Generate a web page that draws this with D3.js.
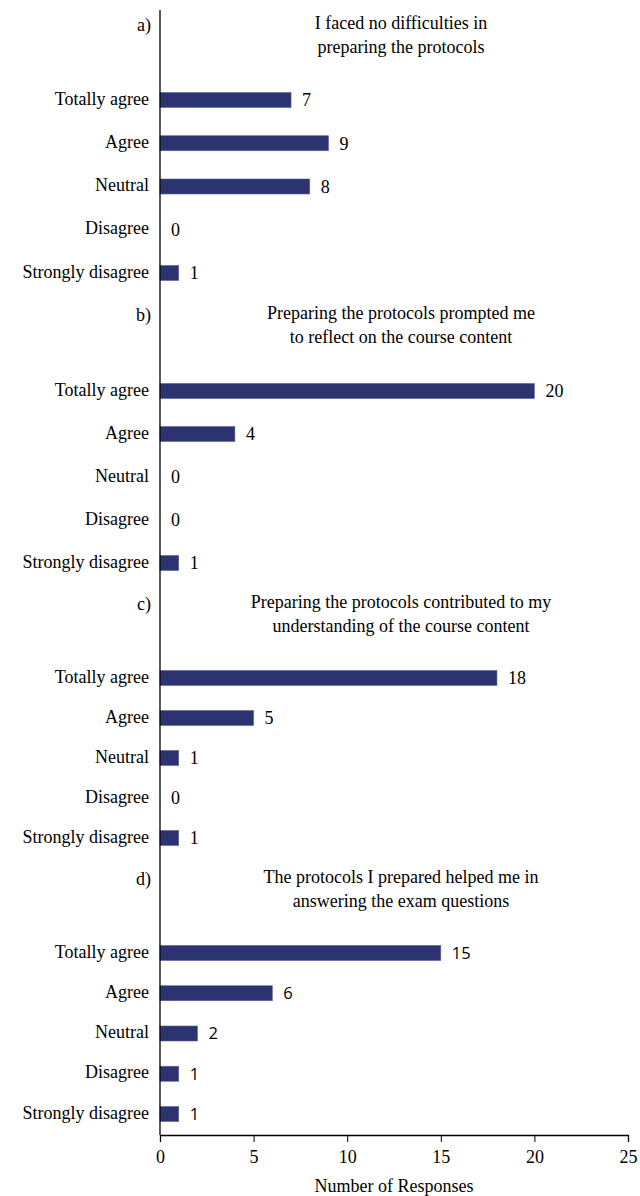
<!DOCTYPE html>
<html>
<head>
<meta charset="utf-8">
<script src="https://cdn.jsdelivr.net/npm/d3@7"></script>
<style>
  body { margin: 0; background: #fff; }
  text { font-family: "Liberation Serif", "Times New Roman", serif; fill: #000; }
</style>
</head>
<body>
<div class="chart"></div>
<script>
// answer categories, same order in every panel
var categories = ["Totally agree", "Agree", "Neutral", "Disagree", "Strongly disagree"];

// one array per question
var valuesA = [7, 9, 8, 0, 1];
var valuesB = [20, 4, 0, 0, 1];
var valuesC = [18, 5, 1, 0, 1];
var valuesD = [15, 6, 2, 1, 1];

var panelLetters = ["a)", "b)", "c)", "d)"];
var panelTitles = [
  ["I faced no difficulties in", "preparing the protocols"],
  ["Preparing the protocols prompted me", "to reflect on the course content"],
  ["Preparing the protocols contributed to my", "understanding of the course content"],
  ["The protocols I prepared helped me in", "answering the exam questions"]
];

var xTicks = [0, 5, 10, 15, 20, 25];
var xTitle = "Number of Responses";

var svgWidth = 640;
var svgHeight = 1196;

var svg = d3.select(".chart")
  .append("svg")
  .attr("width", svgWidth)
  .attr("height", svgHeight);

var x = d3.scaleLinear().domain([0, 25]).range([160, 628]);
var axisY = 1135;
var barH = 15;

// where each panel sits: first and last bar centre, title baseline
var panels = [
  { values: valuesA, top: 100, bottom: 273, title: 29, sans: false },
  { values: valuesB, top: 391, bottom: 563, title: 319, sans: false },
  { values: valuesC, top: 678, bottom: 838, title: 608, sans: false },
  { values: valuesD, top: 953, bottom: 1114, title: 883, sans: true }
];

panels.forEach(function(p, i) {
  var y = d3.scalePoint().domain(categories).range([p.top, p.bottom]);
  var g = svg.append("g");

  g.append("text")
    .attr("x", 151)
    .attr("y", p.title + 2)
    .attr("text-anchor", "end")
    .attr("font-size", 18)
    .text(panelLetters[i]);

  g.selectAll(".title")
    .data(panelTitles[i])
    .enter()
    .append("text")
    .attr("x", 401)
    .attr("y", (d, j) => p.title + j * 23.5)
    .attr("text-anchor", "middle")
    .attr("font-size", 18)
    .text(d => d);

  g.selectAll(".cat")
    .data(categories)
    .enter()
    .append("text")
    .attr("x", 149)
    .attr("y", d => y(d))
    .attr("dy", "0.25em")
    .attr("text-anchor", "end")
    .attr("font-size", 18)
    .text(d => d);

  var rows = categories.map((c, j) => ({ cat: c, v: p.values[j] }));

  g.selectAll("rect")
    .data(rows)
    .enter()
    .append("rect")
    .attr("x", x(0))
    .attr("y", d => y(d.cat) - barH / 2)
    .attr("width", d => x(d.v) - x(0))
    .attr("height", barH)
    .attr("fill", "#2b3370")
    .attr("stroke", "#5a639a")
    .attr("stroke-width", 0.6);

  // last panel's numbers came out in a sans face in the original
  g.selectAll(".val")
    .data(rows)
    .enter()
    .append("text")
    .attr("x", d => x(d.v) + 11)
    .attr("y", d => y(d.cat))
    .attr("dy", "0.35em")
    .attr("font-size", p.sans ? 16.5 : 18)
    .style("font-family", p.sans ? "'Open Sans', sans-serif" : null)
    .text(d => d.v);
});

// vertical category axis line
svg.append("line")
  .attr("x1", x(0)).attr("x2", x(0))
  .attr("y1", 10).attr("y2", axisY)
  .attr("stroke", "#000")
  .attr("stroke-width", 1.3);

// bottom axis
var bottomAxis = d3.axisBottom(x).tickValues(xTicks).tickSize(7).tickPadding(8);
var xAxis = svg.append("g")
  .attr("transform", `translate(0, ${axisY})`)
  .call(bottomAxis);
xAxis.select(".domain").attr("stroke-width", 1.3);
xAxis.selectAll("text")
  .attr("font-size", 18)
  .style("font-family", "'Liberation Serif', serif");

svg.append("text")
  .attr("x", (x(0) + x(25)) / 2)
  .attr("y", 1192)
  .attr("text-anchor", "middle")
  .attr("font-size", 18)
  .text(xTitle);
</script>
</body>
</html>
